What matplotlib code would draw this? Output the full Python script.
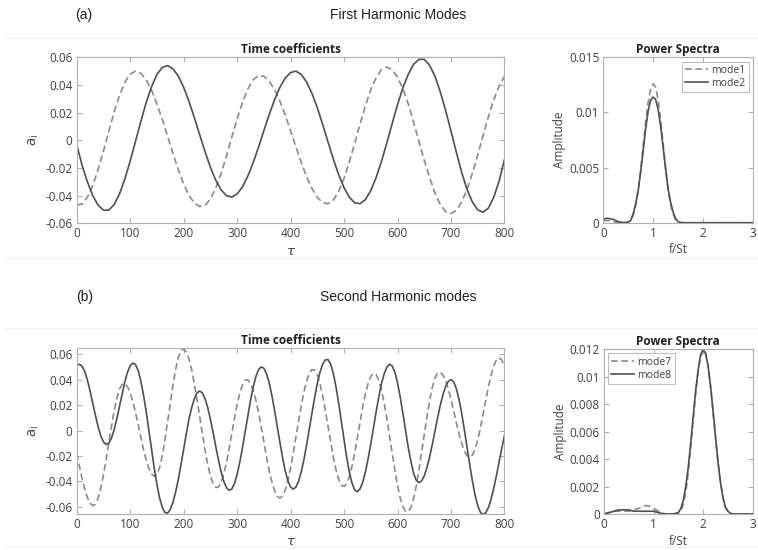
import numpy as np
import matplotlib
matplotlib.use("Agg")
import matplotlib.pyplot as plt
from matplotlib.ticker import FuncFormatter
from matplotlib.lines import Line2D

plt.rcParams['font.family'] = ['Open Sans', 'DejaVu Sans']
plt.rcParams['axes.unicode_minus'] = False

# ---- data ----
# (a) first harmonic modes, tau step 10
tau_a = np.arange(0, 801, 10)
a_mode1 = [-0.0470, -0.0460, -0.0411, -0.0327, -0.0211, -0.0078, 0.0065, 0.0203, 0.0324, 0.0419,
           0.0479, 0.0500, 0.0484, 0.0437, 0.0362, 0.0262, 0.0152, 0.0029, -0.0095, -0.0212,
           -0.0317, -0.0398, -0.0453, -0.0479, -0.0471, -0.0425, -0.0346, -0.0242, -0.0113, 0.0022,
           0.0155, 0.0274, 0.0370, 0.0438, 0.0468, 0.0463, 0.0428, 0.0366, 0.0283, 0.0183,
           0.0069, -0.0048, -0.0161, -0.0264, -0.0348, -0.0413, -0.0451, -0.0459, -0.0432, -0.0368,
           -0.0274, -0.0155, -0.0021, 0.0119, 0.0250, 0.0366, 0.0453, 0.0511, 0.0530, 0.0511,
           0.0457, 0.0374, 0.0264, 0.0132, -0.0007, -0.0145, -0.0268, -0.0382, -0.0464, -0.0515,
           -0.0530, -0.0507, -0.0447, -0.0356, -0.0239, -0.0107, 0.0033, 0.0171, 0.0292, 0.0392,
           0.0462]
a_mode2 = [-0.0030, -0.0181, -0.0300, -0.0400, -0.0469, -0.0505, -0.0505, -0.0465, -0.0388, -0.0280,
           -0.0150, -0.0007, 0.0137, 0.0274, 0.0388, 0.0476, 0.0527, 0.0540, 0.0517, 0.0464,
           0.0383, 0.0281, 0.0164, 0.0040, -0.0082, -0.0194, -0.0288, -0.0358, -0.0400, -0.0410,
           -0.0388, -0.0337, -0.0259, -0.0162, -0.0050, 0.0069, 0.0186, 0.0293, 0.0383, 0.0450,
           0.0490, 0.0500, 0.0476, 0.0421, 0.0339, 0.0235, 0.0115, -0.0012, -0.0136, -0.0249,
           -0.0342, -0.0412, -0.0452, -0.0458, -0.0429, -0.0364, -0.0269, -0.0152, -0.0019, 0.0121,
           0.0258, 0.0378, 0.0476, 0.0549, 0.0585, 0.0585, 0.0543, 0.0463, 0.0351, 0.0215,
           0.0067, -0.0086, -0.0231, -0.0355, -0.0446, -0.0503, -0.0520, -0.0490, -0.0412, -0.0294,
           -0.0140]

# (b) second harmonic modes, tau step 5
tau_b = np.arange(0, 801, 5)
b_mode7 = [-0.0180, -0.0280, -0.0377, -0.0459, -0.0526, -0.0571, -0.0589, -0.0578, -0.0532, -0.0453,
           -0.0350, -0.0228, -0.0097, 0.0033, 0.0152, 0.0251, 0.0324, 0.0363, 0.0368, 0.0344,
           0.0297, 0.0227, 0.0142, 0.0044, -0.0055, -0.0151, -0.0232, -0.0297, -0.0341, -0.0360,
           -0.0346, -0.0291, -0.0198, -0.0076, 0.0067, 0.0214, 0.0356, 0.0478, 0.0573, 0.0626,
           0.0640, 0.0616, 0.0560, 0.0477, 0.0368, 0.0242, 0.0109, -0.0025, -0.0154, -0.0265,
           -0.0356, -0.0417, -0.0447, -0.0444, -0.0408, -0.0342, -0.0255, -0.0143, -0.0025, 0.0093,
           0.0205, 0.0292, 0.0358, 0.0394, 0.0398, 0.0371, 0.0316, 0.0240, 0.0142, 0.0030,
           -0.0088, -0.0205, -0.0319, -0.0402, -0.0471, -0.0515, -0.0530, -0.0514, -0.0467, -0.0391,
           -0.0290, -0.0176, -0.0050, 0.0077, 0.0197, 0.0305, 0.0388, 0.0449, 0.0478, 0.0474,
           0.0436, 0.0366, 0.0273, 0.0156, 0.0033, -0.0093, -0.0210, -0.0308, -0.0384, -0.0429,
           -0.0439, -0.0416, -0.0361, -0.0277, -0.0174, -0.0056, 0.0066, 0.0187, 0.0288, 0.0369,
           0.0426, 0.0449, 0.0439, 0.0394, 0.0316, 0.0216, 0.0096, -0.0040, -0.0177, -0.0311,
           -0.0429, -0.0528, -0.0595, -0.0634, -0.0637, -0.0603, -0.0535, -0.0436, -0.0314, -0.0176,
           -0.0033, 0.0107, 0.0233, 0.0337, 0.0413, 0.0453, 0.0458, 0.0435, 0.0390, 0.0324,
           0.0245, 0.0152, 0.0061, -0.0026, -0.0103, -0.0161, -0.0197, -0.0210, -0.0194, -0.0148,
           -0.0075, 0.0019, 0.0125, 0.0235, 0.0342, 0.0435, 0.0508, 0.0554, 0.0570, 0.0555,
           0.0500]
b_mode8 = [0.0510, 0.0520, 0.0505, 0.0463, 0.0396, 0.0310, 0.0215, 0.0119, 0.0030, -0.0041,
           -0.0089, -0.0109, -0.0100, -0.0060, 0.0006, 0.0092, 0.0190, 0.0290, 0.0382, 0.0457,
           0.0508, 0.0529, 0.0518, 0.0470, 0.0385, 0.0277, 0.0147, 0.0000, -0.0149, -0.0294,
           -0.0422, -0.0528, -0.0602, -0.0644, -0.0648, -0.0620, -0.0564, -0.0484, -0.0384, -0.0268,
           -0.0146, -0.0026, 0.0092, 0.0178, 0.0249, 0.0295, 0.0310, 0.0295, 0.0250, 0.0180,
           0.0089, -0.0014, -0.0124, -0.0229, -0.0323, -0.0397, -0.0448, -0.0469, -0.0459, -0.0417,
           -0.0345, -0.0249, -0.0135, -0.0010, 0.0116, 0.0235, 0.0339, 0.0422, 0.0476, 0.0499,
           0.0489, 0.0446, 0.0374, 0.0275, 0.0159, 0.0032, -0.0092, -0.0213, -0.0317, -0.0394,
           -0.0443, -0.0460, -0.0444, -0.0398, -0.0324, -0.0228, -0.0112, 0.0012, 0.0139, 0.0260,
           0.0368, 0.0457, 0.0520, 0.0554, 0.0557, 0.0520, 0.0447, 0.0341, 0.0212, 0.0070,
           -0.0074, -0.0213, -0.0328, -0.0414, -0.0467, -0.0480, -0.0457, -0.0405, -0.0325, -0.0222,
           -0.0106, 0.0020, 0.0146, 0.0263, 0.0368, 0.0444, 0.0497, 0.0520, 0.0507, 0.0458,
           0.0374, 0.0264, 0.0136, 0.0001, -0.0130, -0.0241, -0.0335, -0.0390, -0.0410, -0.0396,
           -0.0356, -0.0291, -0.0208, -0.0110, -0.0005, 0.0100, 0.0198, 0.0281, 0.0346, 0.0386,
           0.0400, 0.0382, 0.0329, 0.0245, 0.0135, 0.0007, -0.0130, -0.0267, -0.0395, -0.0505,
           -0.0589, -0.0642, -0.0660, -0.0646, -0.0605, -0.0539, -0.0453, -0.0354, -0.0247, -0.0140,
           -0.0040]

# frequency axis (f/St) for the power spectra, step 0.05
freq = np.arange(0, 3.001, 0.05)

ps_mode1 = [0.0002, 0.0002, 0.0002, 0.00015, 0.0001, 0.00005, 0.00002, 0.00001, 0.00001, 0.00002,
            0.00005, 0.0002, 0.0007, 0.0016, 0.0029, 0.0048, 0.0069, 0.0091, 0.0109, 0.0121,
            0.0126, 0.0123, 0.0112, 0.0094, 0.0072, 0.0050, 0.0031, 0.0017, 0.0008, 0.0003,
            0.0001, 0.0, 0.0, 0.0, 0.0, 0.0, 0.0, 0.0, 0.0, 0.0,
            0.0, 0.0, 0.0, 0.0, 0.0, 0.0, 0.0, 0.0, 0.0, 0.0,
            0.0, 0.0, 0.0, 0.0, 0.0, 0.0, 0.0, 0.0, 0.0, 0.0,
            0.0]
ps_mode2 = [0.0003, 0.0004, 0.0004, 0.00035, 0.0003, 0.0002, 0.0001, 0.00005, 0.00002, 0.00002,
            0.00005, 0.0002, 0.0008, 0.0017, 0.0029, 0.0046, 0.0065, 0.0085, 0.0101, 0.0111,
            0.0114, 0.0112, 0.0103, 0.0088, 0.0069, 0.0049, 0.0031, 0.0019, 0.0010, 0.0004,
            0.0001, 0.00003, 0.0, 0.0, 0.0, 0.0, 0.0, 0.0, 0.0, 0.0,
            0.0, 0.0, 0.0, 0.0, 0.0, 0.0, 0.0, 0.0, 0.0, 0.0,
            0.0, 0.0, 0.0, 0.0, 0.0, 0.0, 0.0, 0.0, 0.0, 0.0,
            0.0]
ps_mode7 = [0.0, 0.00005, 0.0001, 0.00015, 0.0002, 0.0002, 0.0002, 0.0002, 0.0002, 0.0002,
            0.0002, 0.00025, 0.0003, 0.00035, 0.0004, 0.0005, 0.0006, 0.0006, 0.0006, 0.0005,
            0.0004, 0.0003, 0.0002, 0.0001, 0.00005, 0.0, 0.0, 0.0, 0.0, 0.0,
            0.00005, 0.0002, 0.0007, 0.0016, 0.0030, 0.0048, 0.0068, 0.0088, 0.0104, 0.0115,
            0.0120, 0.0117, 0.0108, 0.0093, 0.0075, 0.0056, 0.0038, 0.0023, 0.0012, 0.0005,
            0.0002, 0.00005, 0.0, 0.0, 0.0, 0.0, 0.0, 0.0, 0.0, 0.0,
            0.0]
ps_mode8 = [0.0, 0.00005, 0.0001, 0.00015, 0.0002, 0.00025, 0.0003, 0.0003, 0.0003, 0.0003,
            0.0003, 0.00025, 0.0002, 0.0002, 0.0002, 0.0002, 0.0002, 0.0002, 0.0002, 0.0002,
            0.0002, 0.00015, 0.0001, 0.00005, 0.0, 0.0, 0.0, 0.0, 0.0, 0.00005,
            0.0001, 0.0004, 0.0010, 0.0020, 0.0034, 0.0052, 0.0071, 0.0090, 0.0105, 0.0116,
            0.0120, 0.0117, 0.0108, 0.0093, 0.0075, 0.0056, 0.0038, 0.0023, 0.0012, 0.0005,
            0.0002, 0.00005, 0.0, 0.0, 0.0, 0.0, 0.0, 0.0, 0.0, 0.0,
            0.0]

SOLID = '#4f4f4f'
DASHED = '#8a8a8a'
AXCOL = '#b0b0b0'
TXT = '#404040'
FS = 8.5


def fmt(v, pos):
    return '%g' % round(v, 6)


def style_axes(ax, title):
    for s in ax.spines.values():
        s.set_color(AXCOL)
        s.set_linewidth(0.8)
    ax.tick_params(direction='in', top=True, right=True, length=3.5,
                   color=AXCOL, labelcolor=TXT, labelsize=FS, pad=3)
    ax.xaxis.set_major_formatter(FuncFormatter(fmt))
    ax.yaxis.set_major_formatter(FuncFormatter(fmt))
    ax.set_title(title, fontsize=FS, fontweight='bold', color='#202020', pad=3)


def time_panel(rect, tau, s_dash, s_solid, ylim):
    ax = fig.add_axes(rect)
    ax.plot(tau, s_dash, color=DASHED, lw=1.2, ls=(0, (4, 2.2)))
    ax.plot(tau, s_solid, color=SOLID, lw=1.2)
    ax.set_xlim(0, 800)
    ax.set_ylim(*ylim)
    ax.set_xticks(np.arange(0, 801, 100))
    ax.set_yticks([-0.06, -0.04, -0.02, 0, 0.02, 0.04, 0.06])
    style_axes(ax, 'Time coefficients')
    ax.set_xlabel(r'$\tau$', fontsize=FS + 1, color=TXT, labelpad=3)
    ax.set_ylabel(r'$\mathregular{a_i}$', fontsize=FS + 2, color=TXT, labelpad=3)
    return ax


def spec_panel(rect, s_dash, s_solid, names, ymax, yticks, loc):
    ax = fig.add_axes(rect)
    ax.plot(freq, s_dash, color=DASHED, lw=1.2, ls=(0, (4, 2.2)), label=names[0])
    ax.plot(freq, s_solid, color=SOLID, lw=1.2, label=names[1])
    ax.set_xlim(0, 3)
    ax.set_ylim(0, ymax)
    ax.set_xticks([0, 1, 2, 3])
    ax.set_yticks(yticks)
    style_axes(ax, 'Power Spectra')
    ax.set_xlabel('f/St', fontsize=FS, color=TXT, labelpad=2.5)
    ax.set_ylabel('Amplitude', fontsize=FS, color=TXT, labelpad=2)
    leg = ax.legend(loc=loc, fontsize=7.5, frameon=True, fancybox=False,
                    handlelength=2.2, handletextpad=0.3, borderpad=0.3,
                    labelspacing=0.2, borderaxespad=0.4)
    leg.get_frame().set_edgecolor(AXCOL)
    leg.get_frame().set_linewidth(0.8)
    for t in leg.get_texts():
        t.set_color(TXT)
    return ax


fig = plt.figure(figsize=(7.58, 5.5), dpi=100)

time_panel([0.1012, 0.594, 0.5643, 0.3018], tau_a, a_mode1, a_mode2, (-0.06, 0.06))
spec_panel([0.7959, 0.595, 0.1971, 0.3007], ps_mode1, ps_mode2, ['mode1', 'mode2'],
           0.015, [0, 0.005, 0.01, 0.015], 'upper right')

time_panel([0.1012, 0.0655, 0.5643, 0.3012], tau_b, b_mode7, b_mode8, (-0.0655, 0.0645))
spec_panel([0.7968, 0.0655, 0.1962, 0.2994], ps_mode7, ps_mode8, ['mode7', 'mode8'],
           0.012, [0, 0.002, 0.004, 0.006, 0.008, 0.01, 0.012], 'upper left')

# panel headings
hfont = ['Liberation Sans', 'DejaVu Sans']
fig.text(0.111, 0.972, '(a)', ha='center', va='center', fontsize=10, family=hfont, color='#202020')
fig.text(0.525, 0.972, 'First Harmonic Modes', ha='center', va='center', fontsize=10,
         family=hfont, color='#202020')
fig.text(0.111, 0.460, '(b)', ha='center', va='center', fontsize=10, family=hfont, color='#202020')
fig.text(0.525, 0.460, 'Second Harmonic modes', ha='center', va='center', fontsize=10,
         family=hfont, color='#202020')

# faint borders of the two sub-figures
for yy in [0.931, 0.531, 0.404, 0.006]:
    fig.add_artist(Line2D([0.007, 1.0], [yy, yy], color='#f0f0f0', lw=0.8))

fig.savefig('out.png', dpi=100)
